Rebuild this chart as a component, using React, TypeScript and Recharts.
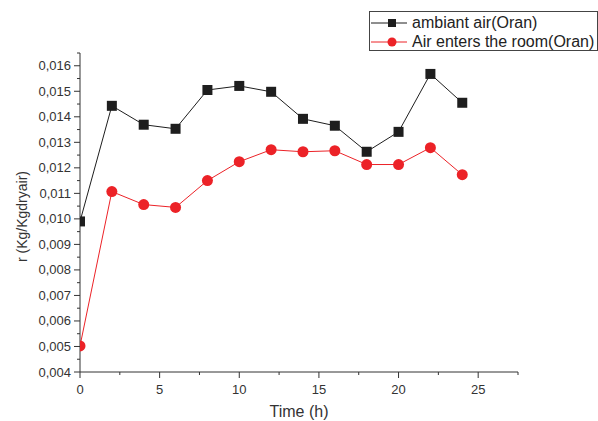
import React from 'react';
import { LineChart, Line, XAxis, YAxis, Legend } from 'recharts';

const hours = [0, 2, 4, 6, 8, 10, 12, 14, 16, 18, 20, 22, 24];
const ambiantAir = [0.0099, 0.01443, 0.01369, 0.01353, 0.01505, 0.01521, 0.01498, 0.01392, 0.01365, 0.01263, 0.01341, 0.01568, 0.01455];
const roomAir = [0.00502, 0.01107, 0.01056, 0.01045, 0.0115, 0.01224, 0.01271, 0.01263, 0.01267, 0.01213, 0.01213, 0.01279, 0.01173];

const xTicks = [0, 2.5, 5, 7.5, 10, 12.5, 15, 17.5, 20, 22.5, 25, 27.5];
const xMajor = [0, 5, 10, 15, 20, 25];
const yTicks = [
  0.004, 0.0045, 0.005, 0.0055, 0.006, 0.0065, 0.007, 0.0075, 0.008, 0.0085, 0.009, 0.0095,
  0.01, 0.0105, 0.011, 0.0115, 0.012, 0.0125, 0.013, 0.0135, 0.014, 0.0145, 0.015, 0.0155,
  0.016, 0.0165,
];
const seriesOrder = ['ambiant', 'room'];

const data = hours.map((h, i) => ({ h, ambiant: ambiantAir[i], room: roomAir[i] }));

const BLACK = '#1e1e1e';
const RED = '#ec2227';
const AXIS = '#333';

const isMajorY = (v: number) => Math.abs(v * 1000 - Math.round(v * 1000)) < 1e-6 && v <= 0.016;

const YTick = (props: any) => {
  const { x, y, payload } = props;
  const major = isMajorY(payload.value);
  return (
    <g>
      <line x1={x} x2={x - (major ? 6 : 3)} y1={y} y2={y} stroke={AXIS} strokeWidth={1} />
      {major && (
        <text x={x - 9} y={y + 4.5} textAnchor="end" fontSize={13} fill="#333">
          {payload.value.toFixed(3).replace('.', ',')}
        </text>
      )}
    </g>
  );
};

const XTick = (props: any) => {
  const { x, y, payload } = props;
  const major = xMajor.includes(payload.value);
  return (
    <g>
      <line x1={x} x2={x} y1={y} y2={y + (major ? 6 : 3)} stroke={AXIS} strokeWidth={1} />
      {major && (
        <text x={x} y={y + 22} textAnchor="middle" fontSize={13} fill="#333">
          {payload.value}
        </text>
      )}
    </g>
  );
};

const SquareDot = (props: any) => {
  const { cx, cy } = props;
  if (cx == null || cy == null) return null;
  return <rect x={cx - 5} y={cy - 5} width={10} height={10} fill={BLACK} />;
};

const CircleDot = (props: any) => {
  const { cx, cy } = props;
  if (cx == null || cy == null) return null;
  return <circle cx={cx} cy={cy} r={5.5} fill={RED} />;
};

const LegendBox = (props: any) => {
  const items = [...(props.payload || [])].sort(
    (a: any, b: any) => seriesOrder.indexOf(a.dataKey) - seriesOrder.indexOf(b.dataKey)
  );
  return (
    <div
      style={{
        border: '1px solid #444',
        width: 229,
        height: 40,
        boxSizing: 'border-box',
        padding: '1px 0 0 0',
        background: '#fff',
      }}
    >
      {items.map((it: any) => {
        const isRoom = it.dataKey === 'room';
        const c = isRoom ? RED : BLACK;
        return (
          <div key={it.dataKey} style={{ display: 'flex', alignItems: 'center', height: 19, whiteSpace: 'nowrap' }}>
            <svg width={37} height={14} style={{ marginLeft: 1 }}>
              <line x1={0} x2={36} y1={7} y2={7} stroke={c} strokeWidth={1} />
              {isRoom ? (
                <circle cx={21} cy={7} r={4.5} fill={c} />
              ) : (
                <rect x={17} y={3} width={8} height={8} fill={c} />
              )}
            </svg>
            <span style={{ fontSize: 16, color: '#222', marginLeft: 4 }}>{it.value}</span>
          </div>
        );
      })}
    </div>
  );
};

export default function App() {
  return (
    <div
      style={{
        position: 'absolute',
        left: 0,
        top: 0,
        width: 598,
        height: 421,
        background: '#fff',
        fontFamily: '"Liberation Sans", Arial, sans-serif',
      }}
    >
      <LineChart width={598} height={421} data={data} margin={{ top: 53, right: 80, bottom: 0, left: 0 }}>
        <XAxis
          dataKey="h"
          type="number"
          domain={[0, 27.5]}
          ticks={xTicks}
          interval={0}
          tick={<XTick />}
          tickLine={false}
          tickSize={0}
          tickMargin={0}
          height={49}
          stroke={AXIS}
          allowDataOverflow
          label={{ value: 'Time (h)', position: 'insideBottom', offset: 4, fontSize: 16, fill: '#333' }}
        />
        <YAxis
          type="number"
          domain={[0.004, 0.0165]}
          ticks={yTicks}
          interval={0}
          tick={<YTick />}
          tickLine={false}
          tickSize={0}
          tickMargin={0}
          width={80}
          stroke={AXIS}
          allowDataOverflow
          label={{ value: 'r (Kg/Kgdryair)', angle: -90, position: 'insideLeft', offset: 22, dy: 4, fontSize: 14, fill: '#333', style: { textAnchor: 'middle' } }}
        />
        <Legend
          layout="horizontal"
          verticalAlign="middle"
          align="center"
          content={<LegendBox />}
          wrapperStyle={{ position: 'absolute', top: 11, left: 369, width: 229 }}
        />
        <Line
          dataKey="ambiant"
          name="ambiant air(Oran)"
          stroke={BLACK}
          strokeWidth={1}
          dot={<SquareDot />}
          activeDot={false}
          isAnimationActive={false}
        />
        <Line
          dataKey="room"
          name="Air enters the room(Oran)"
          stroke={RED}
          strokeWidth={1}
          dot={<CircleDot />}
          activeDot={false}
          isAnimationActive={false}
        />
      </LineChart>
    </div>
  );
}
